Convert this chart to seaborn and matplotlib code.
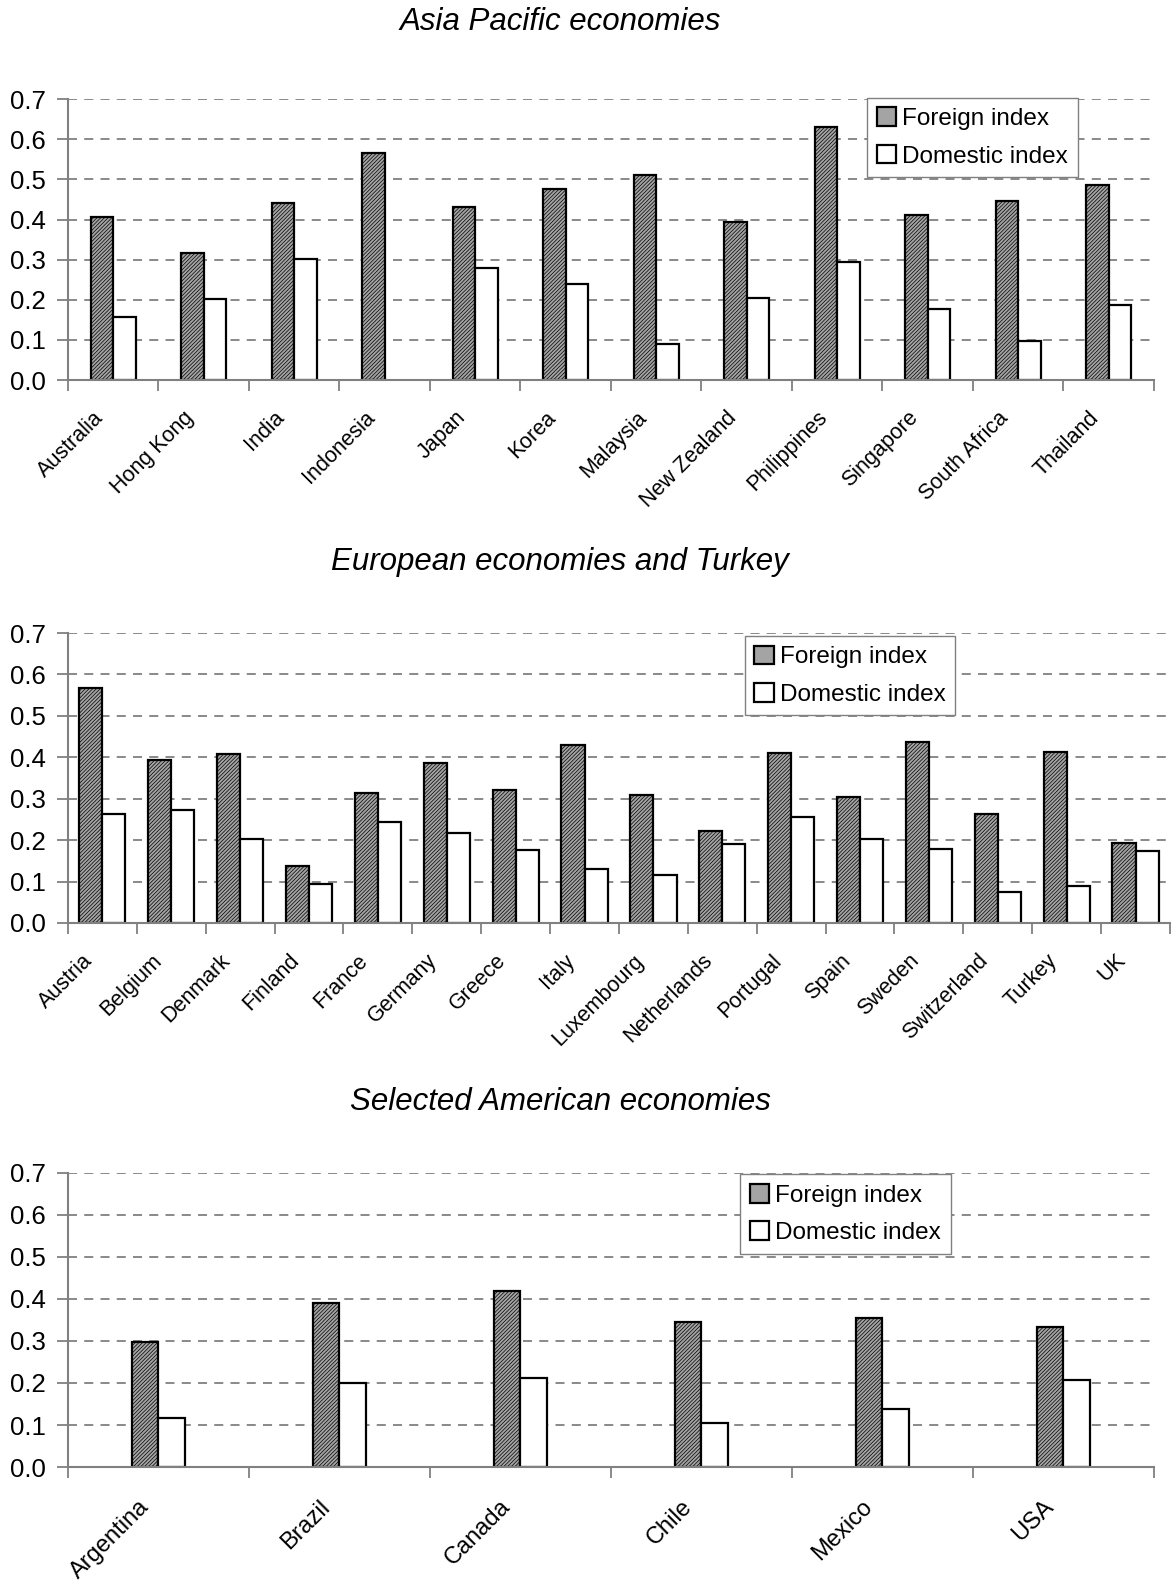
import matplotlib
matplotlib.use("Agg")
import matplotlib.pyplot as plt
import matplotlib.transforms as mtransforms
import numpy as np
import pandas as pd
import seaborn as sns

# Asia Pacific economies
asia_countries = ["Australia", "Hong Kong", "India", "Indonesia", "Japan", "Korea",
                  "Malaysia", "New Zealand", "Philippines", "Singapore",
                  "South Africa", "Thailand"]
asia_foreign = [0.407, 0.317, 0.442, 0.566, 0.43, 0.475, 0.51, 0.395, 0.63, 0.411, 0.447, 0.486]
asia_domestic = [0.158, 0.203, 0.302, np.nan, 0.28, 0.24, 0.09, 0.205, 0.295, 0.178, 0.098, 0.187]

# European economies and Turkey
euro_countries = ["Austria", "Belgium", "Denmark", "Finland", "France", "Germany",
                  "Greece", "Italy", "Luxembourg", "Netherlands", "Portugal", "Spain",
                  "Sweden", "Switzerland", "Turkey", "UK"]
euro_foreign = [0.568, 0.394, 0.408, 0.138, 0.315, 0.387, 0.32, 0.43, 0.31, 0.223,
                0.41, 0.305, 0.437, 0.264, 0.413, 0.192]
euro_domestic = [0.264, 0.273, 0.202, 0.095, 0.243, 0.218, 0.175, 0.13, 0.115, 0.19,
                 0.255, 0.203, 0.178, 0.075, 0.09, 0.173]

# Selected American economies
amer_countries = ["Argentina", "Brazil", "Canada", "Chile", "Mexico", "USA"]
amer_foreign = [0.297, 0.39, 0.418, 0.345, 0.355, 0.333]
amer_domestic = [0.116, 0.20, 0.213, 0.105, 0.139, 0.206]

series_names = ["Foreign index", "Domestic index"]

sns.set_style("white")
plt.rcParams["font.family"] = ["Liberation Sans", "DejaVu Sans"]
plt.rcParams["hatch.linewidth"] = 0.5
plt.rcParams["text.color"] = "black"
plt.rcParams["xtick.labelcolor"] = "black"
plt.rcParams["ytick.labelcolor"] = "black"

GRID = "#808080"


def build_frame(countries, foreign, domestic):
    return pd.DataFrame({
        "country": countries * 2,
        "value": list(foreign) + list(domestic),
        "index": [series_names[0]] * len(countries) + [series_names[1]] * len(countries),
    })


def draw_panel(fig, rect, title, title_y, df, bar_width, legend_xy,
               label_size=15.5, label_dy=-4):
    ax = fig.add_axes(rect)
    n = df["country"].nunique()
    sns.barplot(
        data=df, x="country", y="value", hue="index",
        palette={series_names[0]: "#a4a4a4", series_names[1]: "white"},
        saturation=1, width=bar_width, edgecolor="black", linewidth=1.6,
        legend=True, ax=ax,
    )
    # fine diagonal hatching on the foreign bars
    for p in ax.containers[0]:
        p.set_hatch("/////////")
        try:
            p.set_hatchcolor("#5e5e5e")
        except AttributeError:
            pass

    ax.set_ylim(0, 0.7)
    ax.set_xlim(-0.5, n - 0.5)
    ax.set_yticks(np.arange(0, 0.71, 0.1))
    ax.set_yticklabels([f"{v:.1f}" for v in np.arange(0, 0.71, 0.1)], fontsize=18.5)
    ax.yaxis.grid(True, linestyle=(0, (5, 4)), color=GRID, linewidth=1.3)
    ax.xaxis.grid(False)
    ax.set_axisbelow(True)
    ax.tick_params(axis="y", direction="out", length=8, color=GRID, width=1.3, pad=8,
                   left=True)

    # category labels at centres, separator ticks between categories
    ax.set_xticks(range(n))
    ax.set_xticklabels(df["country"].unique()[:n], rotation=45, ha="right",
                       va="center", rotation_mode="anchor", fontsize=label_size)
    ax.tick_params(axis="x", which="major", length=0, pad=22)
    shift = mtransforms.ScaledTranslation(-13 / 100, label_dy / 100, fig.dpi_scale_trans)
    for lab in ax.get_xticklabels():
        lab.set_transform(lab.get_transform() + shift)
    ax.set_xticks(np.arange(-0.5, n, 1), minor=True)
    ax.tick_params(axis="x", which="minor", direction="out", length=8, color=GRID,
                   width=1.3, bottom=True)

    for side in ["top", "right"]:
        ax.spines[side].set_visible(False)
    for side in ["left", "bottom"]:
        ax.spines[side].set_color(GRID)
        ax.spines[side].set_linewidth(1.5)
    ax.set_xlabel("")
    ax.set_ylabel("")

    ax.legend(loc="upper left", bbox_to_anchor=legend_xy, fontsize=17.5,
              frameon=True, fancybox=False, edgecolor=GRID, framealpha=1,
              handlelength=0.8, handleheight=0.8, handletextpad=0.25,
              labelspacing=0.6, borderpad=0.4, borderaxespad=0)

    fig.text(0.478, title_y, title, ha="center", va="center", fontsize=22.5,
             style="italic", color="black")
    return ax


fig = plt.figure(figsize=(11.72, 15.81), dpi=100)

draw_panel(fig, [0.058, 0.7596, 0.9266, 0.1777], "Asia Pacific economies",
           1 - 22 / 1581, build_frame(asia_countries, asia_foreign, asia_domestic),
           0.5, (0.736, 1.005))
draw_panel(fig, [0.058, 0.4162, 0.9403, 0.1834], "European economies and Turkey",
           1 - 562 / 1581, build_frame(euro_countries, euro_foreign, euro_domestic),
           0.67, (0.614, 0.99))
draw_panel(fig, [0.058, 0.0721, 0.9266, 0.186], "Selected American economies",
           1 - 1102 / 1581, build_frame(amer_countries, amer_foreign, amer_domestic),
           0.29, (0.619, 0.995), label_size=17, label_dy=-6)

fig.savefig("out.png", dpi=100, facecolor="white")
